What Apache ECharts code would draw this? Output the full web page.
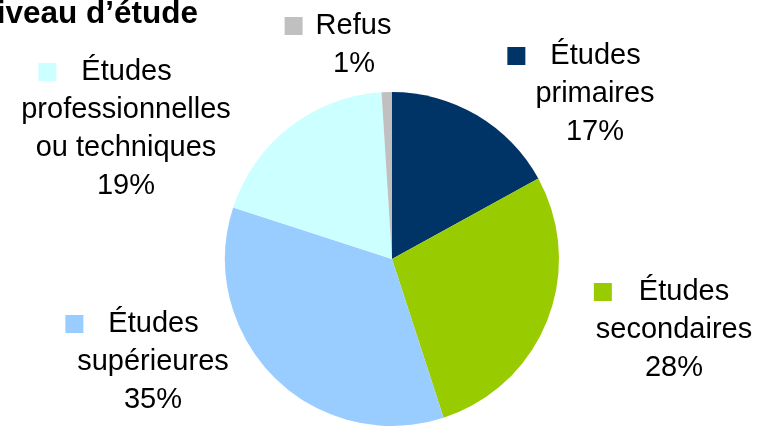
<!DOCTYPE html>
<html><head><meta charset="utf-8">
<script src="https://cdn.jsdelivr.net/npm/echarts@6/dist/echarts.min.js"></script>
<style>html,body{margin:0;padding:0;background:#fff;overflow:hidden}#c{width:765px;height:427px}</style>
</head><body><div id="c"></div>
<script>
const titleText = 'Niveau d’étude';
const categories = ['Études\nprimaires', 'Études\nsecondaires', 'Études\nsupérieures', 'Études\nprofessionnelles\nou techniques', 'Refus'];
const values = [17, 28, 35, 19, 1];
const colors = ['#003366', '#99CC00', '#99CCFF', '#CCFFFF', '#C0C0C0'];
const labelPos = [[595, 94], [674, 330], [153, 362], [126, 129], [354, 45]];
const firstLineGaps = [[25, 42], [27, 25], [25, 42], [25, 42], [13, 32]];

const rich = {};
colors.forEach((c, i) => {
  rich['m' + i] = { width: 18, height: 18, backgroundColor: c };
  rich['g' + i] = { width: firstLineGaps[i][0], height: 18 };
  rich['t' + i] = { width: firstLineGaps[i][1], height: 18 };
});

const chart = echarts.init(document.getElementById('c'), null, { renderer: 'canvas' });
chart.setOption({
  animation: false,
  title: {
    text: titleText,
    left: -31,
    top: -7,
    textStyle: { fontFamily: 'Liberation Sans', fontSize: 31.5, fontWeight: 'bold', color: '#000' }
  },
  series: [{
    type: 'pie',
    center: [392, 259],
    radius: 167,
    startAngle: 90,
    clockwise: true,
    avoidLabelOverlap: false,
    emphasis: { disabled: true },
    data: categories.map((name, i) => ({ name: name, value: values[i], itemStyle: { color: colors[i] } })),
    label: {
      show: true,
      position: 'outside',
      fontFamily: 'Liberation Sans',
      fontSize: 29,
      lineHeight: 38,
      color: '#000',
      align: 'center',
      rich: rich,
      formatter: function (p) {
        const i = p.dataIndex;
        const lines = p.name.split('\n');
        const first = '{m' + i + '|}{g' + i + '|}' + lines[0] + '{t' + i + '|}';
        return [first].concat(lines.slice(1)).concat([p.value + '%']).join('\n');
      }
    },
    labelLine: { show: false },
    labelLayout: function (p) {
      const q = labelPos[p.dataIndex];
      return { x: q[0], y: q[1], align: 'center', verticalAlign: 'middle' };
    }
  }]
});
</script>
</body></html>
